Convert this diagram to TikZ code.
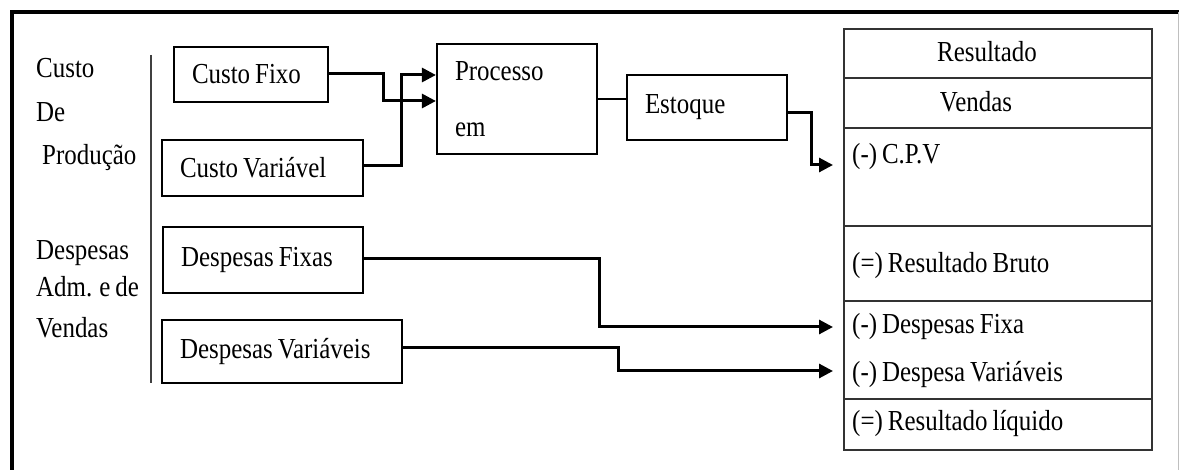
\documentclass[tikz,border=0pt]{standalone}
\usepackage{fontspec}
\setmainfont{Liberation Serif}[FakeStretch=0.86, WordSpace=0.8]
\usetikzlibrary{arrows.meta}

\tikzset{
  box/.style={draw, line width=2.2pt, inner xsep=18pt, inner ysep=0pt, align=flush left},
  cell/.style={draw=black!80, line width=1.8pt, minimum width=308pt, inner sep=0pt},
  conn/.style={line width=3pt, -{Triangle[length=14pt,width=14pt]}},
  lbl/.style={anchor=base west, inner sep=0pt},
  txt/.style={font=\fontsize{29}{33}\selectfont}
}

\begin{document}
\begin{tikzpicture}[x=1pt, y=-1pt, txt]
\useasboundingbox (0,0) rectangle (1179,470);

% frame
\draw[line width=4pt] (12,470) -- (12,12) -- (1179,12);
\draw[black!25, line width=1pt] (1178,12) -- (1178,470);

% left group labels and separator
\node[lbl] (l1) at (36,78) {Custo};
\node[lbl] (l2) at (36,122) {De};
\node[lbl] (l3) at (42,165) {Produção};
\node[lbl] (l4) at (36,260) {Despesas};
\node[lbl] (l5) at (36,297) {Adm. e de};
\node[lbl] (l6) at (36,338) {Vendas};
\draw[black!75, line width=1.8pt] (151,55) -- (151,383);

% cost and expense boxes
\node[box, text width=118pt, minimum height=55pt] (cf) at (251,74.5) {Custo Fixo};
\node[box, text width=165pt, minimum height=56pt] (cv) at (262.5,168) {Custo Variável};
\node[box, text width=164pt, minimum height=66pt] (df) at (263,260) {Despesas Fixas};
\node[box, text width=204pt, minimum height=63pt] (dv) at (282,351.5) {Despesas Variáveis};

% process and stock
\node[box, text width=124pt, minimum height=110pt] (proc) at (517,99) {Processo\\[23pt]em};
\node[box, text width=124pt, minimum height=65pt] (est) at (707,107.5) {Estoque};

% result statement
\node[cell, minimum height=49pt, anchor=north west] (r1) at (843,28) {};
\node[cell, minimum height=50pt, anchor=north west] (r2) at (843,77) {};
\node[cell, minimum height=98pt, anchor=north west] (r3) at (843,127) {};
\node[cell, minimum height=75pt, anchor=north west] (r4) at (843,225) {};
\node[cell, minimum height=98pt, anchor=north west] (r5) at (843,300) {};
\node[cell, minimum height=51pt, anchor=north west] (r6) at (843,398) {};

\node[anchor=base, inner sep=0pt] (t1) at (987,62) {Resultado};
\node[anchor=base, inner sep=0pt] (t2) at (976,112) {Vendas};
\node[lbl] (t3) at (852,164) {(-) C.P.V};
\node[lbl] (t4) at (852,273) {(=) Resultado Bruto};
\node[lbl] (t5) at (852,334) {(-) Despesas Fixa};
\node[lbl] (t6) at (852,382) {(-) Despesa Variáveis};
\node[lbl] (t7) at (852,431) {(=) Resultado líquido};

\coordinate (inCPV) at (833,165);
\coordinate (inDF) at (833,327);
\coordinate (inDV) at (833,371);

% connectors
\draw[conn] ([yshift=0.5pt]cf.east) -- ++(54,0) |- ([yshift=-2pt]proc.west);
\draw[conn] ([yshift=2pt]cv.east) -- ++(37,0) |- ([yshift=24pt]proc.west);
\draw[line width=1.4pt] (proc.east) -- (proc.east -| est.west);
\draw[conn] ([yshift=-5.5pt]est.east) -- ++(23,0) |- (inCPV);
\draw[conn] ([yshift=1pt]df.east) -- ++(235,0) |- (inDF);
\draw[conn] ([yshift=3.5pt]dv.east) -- ++(215,0) |- (inDV);
\end{tikzpicture}
\end{document}
